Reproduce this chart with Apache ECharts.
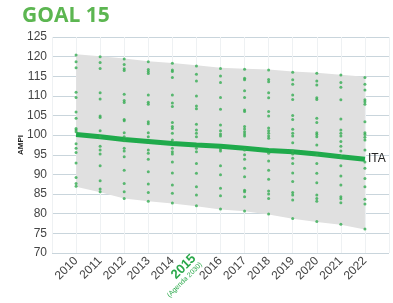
<!DOCTYPE html>
<html><head><meta charset="utf-8">
<script src="https://cdn.jsdelivr.net/npm/echarts@6/dist/echarts.min.js"></script>
<style>html,body{margin:0;padding:0;background:#fff}#c{width:393px;height:303px}</style>
</head><body><div id="c"></div>
<script>
var years = [2010,2011,2012,2013,2014,2015,2016,2017,2018,2019,2020,2021,2022];
var yTicks = [70,75,80,85,90,95,100,105,110,115,120,125];
var itaValues = [100.2,99.6,98.9,98.4,97.9,97.5,97.2,96.7,96.1,95.8,95.2,94.5,93.9];
var bandUpper = [120.6,120.1,119.5,118.8,118.4,117.8,117.2,116.9,116.7,116.2,115.9,115.4,114.9];
var bandLower = [86.9,85.5,83.9,83.2,82.6,81.9,81.1,80.6,79.8,78.7,77.9,77.2,76.0];
var dots2010 = [120.4,118.7,117.2,110.9,109.6,105.9,104.3,101.7,101.3,100.9,97.8,96.7,95.6,92.9,89.2,87.7,87.0];
var dots2011 = [120.0,118.5,117.0,110.8,109.2,104.9,104.5,101.1,99.6,97.2,96.2,95.2,92.2,88.4,86.3,85.6];
var dots2012 = [119.4,118.0,116.9,116.5,110.4,108.8,108.3,104.0,103.7,100.6,99.6,98.6,96.7,96.0,94.5,91.1,87.7,85.6,83.9];
var dots2013 = [118.7,116.7,116.2,115.7,110.2,108.4,107.9,103.4,102.9,100.6,99.6,96.2,95.4,93.9,90.7,87.6,85.4,83.2];
var dots2014 = [118.3,116.6,116.2,114.7,110.2,108.2,107.3,103.2,102.2,101.7,100.5,98.8,96.7,95.8,95.2,93.2,90.4,87.3,85.2,82.7];
var dots2015 = [117.6,115.5,113.8,110.0,107.4,106.7,102.8,101.3,100.5,99.6,96.7,95.8,92.8,90.3,86.9,84.8,82.0];
var dots2016 = [117.0,115.1,113.4,109.6,106.6,102.6,101.1,100.3,99.8,96.5,96.0,92.2,89.9,86.5,84.6,81.2];
var dots2017 = [116.8,114.5,114.1,111.3,109.6,106.4,106.0,102.2,101.6,100.9,100.3,99.8,96.2,95.0,93.9,91.6,89.4,86.0,85.6,84.3,80.7];
var dots2018 = [116.6,114.2,113.6,110.8,109.5,106.0,104.9,101.8,101.1,100.5,99.8,99.2,95.4,93.4,91.1,88.8,85.8,85.0,83.9,79.9];
var dots2019 = [116.0,114.1,113.0,110.2,109.1,105.0,104.0,101.5,100.5,99.8,98.1,96.0,95.2,94.1,92.8,90.4,88.2,85.4,84.8,83.5,78.8];
var dots2020 = [115.8,113.8,112.8,109.5,109.1,104.3,103.2,100.6,100.2,99.6,97.5,95.0,92.8,90.3,87.9,84.8,83.9,83.2,78.0];
var dots2021 = [115.3,113.4,112.2,109.0,104.1,101.3,100.5,99.8,98.4,97.2,96.0,94.7,92.2,89.6,87.3,84.3,83.8,82.8,77.3];
var dots2022 = [114.7,113.0,111.5,109.0,108.5,107.9,103.4,100.6,100.2,99.5,98.8,96.2,93.2,91.6,89.0,86.9,83.7,82.5,76.1];
var dotsByYear = [dots2010,dots2011,dots2012,dots2013,dots2014,dots2015,dots2016,dots2017,dots2018,dots2019,dots2020,dots2021,dots2022];

var scatterData = [];
years.forEach(function(y, i){ dotsByYear[i].forEach(function(v){ scatterData.push([y, v]); }); });
var itaData = years.map(function(y,i){ return [y, itaValues[i]]; });

function renderBand(params, api) {
  var pts = [];
  for (var i = 0; i < years.length; i++) pts.push(api.coord([years[i], bandUpper[i]]));
  for (var j = years.length - 1; j >= 0; j--) pts.push(api.coord([years[j], bandLower[j]]));
  return {type: 'polygon', shape: {points: pts}, style: {fill: '#e0e0e0'}, silent: true};
}

var chart = echarts.init(document.getElementById('c'), null, {renderer:'canvas'});
chart.setOption({
  animation: false,
  textStyle: {fontFamily: 'Liberation Sans, Arial, sans-serif'},
  title: {
    text: 'GOAL 15', left: 17, top: 1,
    textStyle: {fontFamily: 'Open Sans, sans-serif', fontWeight: 'bold', fontSize: 21, color: '#5cb651'}
  },
  grid: {left: 52, right: 4, top: 37, bottom: 50},
  xAxis: {
    type: 'value', min: 2009, max: 2023, interval: 1,
    axisLine: {show: false}, axisTick: {show: false},
    splitLine: {show: true, lineStyle: {color: '#eef1f3', width: 1}},
    axisLabel: {
      rotate: 45, margin: 6, fontSize: 12, color: '#444',
      formatter: function(v){
        if (v < 2010 || v > 2022) return '';
        if (v === 2015) return '{hl|2015}\n{sub|(Agenda 2030)}';
        return String(v);
      },
      rich: {
        hl: {color: '#2aa84a', fontWeight: 'bold', fontSize: 13, align: 'right'},
        sub: {color: '#2aa84a', fontSize: 7, align: 'right'}
      }
    }
  },
  yAxis: {
    type: 'value', min: 70, max: 125, interval: 5,
    name: 'AMPI', nameLocation: 'middle', nameGap: 27, nameRotate: 90, nameMoveOverlap: false,
    nameTextStyle: {fontSize: 8, fontWeight: 'bold', color: '#222'},
    axisLine: {show: false}, axisTick: {show: false},
    axisLabel: {fontSize: 12, color: '#444', margin: 5},
    splitLine: {lineStyle: {color: '#c9d5dc', width: 1}}
  },
  series: [
    {type: 'custom', renderItem: renderBand, data: [0], z: 1, silent: true},
    {type: 'line', data: itaData, symbol: 'none', lineStyle: {color: '#1faa4b', width: 5}, z: 3,
     endLabel: {show: true, formatter: 'ITA', color: '#222', fontSize: 12, distance: 3}},
    {type: 'scatter', data: scatterData, symbolSize: 3, itemStyle: {color: '#34ad52'}, z: 4}
  ]
});
</script></body></html>
